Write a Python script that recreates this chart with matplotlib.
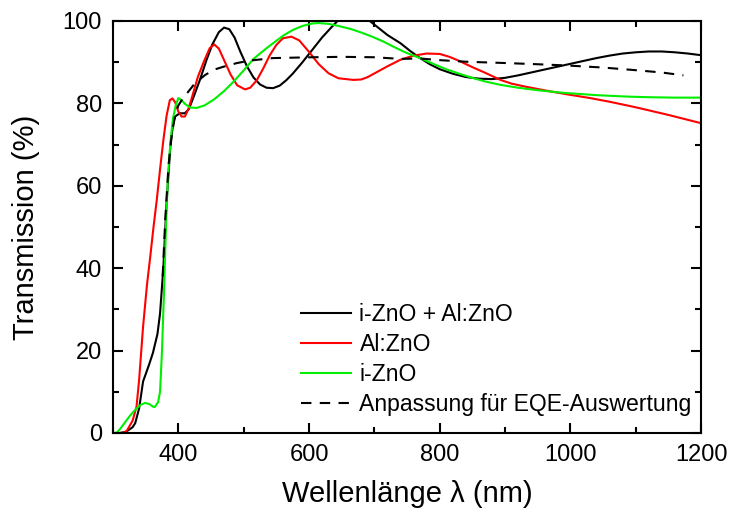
import matplotlib
matplotlib.use("Agg")
import matplotlib.pyplot as plt
from matplotlib.ticker import MultipleLocator

plt.rcParams['font.family'] = ['Liberation Sans', 'DejaVu Sans']

# i-ZnO + Al:ZnO
wl_stack = [300, 310, 320, 330, 334, 340, 346, 355, 361, 368, 372, 377, 382, 385, 388, 392, 395,
            402, 410, 416, 422, 433, 443, 452, 462, 470, 478, 486, 495, 505, 515, 525, 535,
            545, 555, 565, 575, 590, 605, 620, 635, 645, 655, 668, 680, 693, 705, 720, 740,
            755, 770, 785, 800, 820, 840, 860, 880, 900, 920, 940, 960, 980, 1000, 1020,
            1040, 1060, 1080, 1100, 1120, 1140, 1160, 1180, 1200]
t_stack = [0, 0, 0.3, 1.4, 2.4, 6, 12.5, 16.5, 19.4, 24, 29, 40, 56, 63, 70, 75, 76.8,
           77.6, 77.6, 78.6, 81, 85.7, 90.5, 94.3, 97.3, 98.4, 98, 96, 92.5, 89, 86.3, 84.6, 83.8,
           83.7, 84.3, 85.6, 87.2, 90, 93, 96, 98.6, 100.2, 101.4, 102, 101.5, 100, 98.5, 96.6, 94.6,
           92.7, 91, 89.5, 88.3, 87.2, 86.4, 86, 85.9, 86.2, 86.8, 87.5, 88.2, 88.9, 89.6, 90.3,
           91, 91.6, 92.1, 92.4, 92.6, 92.6, 92.4, 92.1, 91.7]

# Al:ZnO
wl_azo = [300, 315, 321, 330, 336, 340, 346, 352, 357, 362, 367, 372, 377, 382, 387, 391, 395,
          400, 405, 410, 415, 420, 430, 440, 448, 455, 462, 470, 480, 490, 502, 510, 520, 530,
          540, 550, 560, 573, 585, 600, 615, 630, 645, 668, 680, 690, 705, 720, 740, 760, 780,
          800, 815, 830, 850, 870, 893, 910, 930, 950, 970, 995, 1030, 1060, 1090, 1107, 1150,
          1180, 1200]
t_azo = [0, 0, 0.5, 3, 6.4, 13, 25.8, 36, 42.8, 50, 56.6, 64, 71, 77, 80.8, 81.2, 80.3,
         78, 76.8, 76.8, 78.5, 81, 86.5, 90.5, 93.4, 94.3, 93.3, 90.5, 87, 84.4, 83.4, 83.8, 85.6, 88.5,
         91.7, 94.2, 95.8, 96.2, 95.3, 92.5, 89.5, 87.3, 86.1, 85.7, 85.8, 86.4, 87.7, 89, 90.6, 91.6, 92.1,
         92, 91.3, 90.3, 88.8, 87.4, 85.7, 84.8, 84.1, 83.5, 82.9, 82.2, 81.3, 80.4, 79.4, 78.8, 77.2,
         76, 75.2]

# i-ZnO
wl_izo = [300, 305, 310, 318, 326, 335, 342, 349, 356, 361, 364, 369, 372, 375, 378, 381, 384,
          388, 392, 396, 400, 405, 410, 418, 428, 440, 455, 470, 484, 500, 515, 535, 550, 561,
          575, 590, 605, 615, 630, 645, 663, 680, 695, 714, 730, 750, 770, 790, 810, 830, 850,
          870, 893, 920, 950, 980, 995, 1040, 1080, 1097, 1120, 1160, 1200]
t_izo = [0, 0, 0.8, 2.5, 4.2, 5.8, 6.8, 7.3, 7, 6.4, 6.3, 7.5, 10, 20, 34, 50, 62,
         71, 76.5, 79.5, 81.3, 80.8, 79.9, 79, 78.9, 79.5, 81, 83, 85.2, 88, 90.8, 93.4, 95.2, 96.5,
         97.8, 98.8, 99.4, 99.5, 99.3, 98.8, 98.1, 97.2, 96.3, 95, 93.7, 92.2, 91, 89.6, 88.3, 87.2, 86.2,
         85.3, 84.5, 83.8, 83.2, 82.7, 82.5, 82, 81.7, 81.6, 81.5, 81.4, 81.4]

# Anpassung (fit)
wl_fit = [376, 380, 385, 390, 395, 400, 408, 415, 425, 441, 455, 469, 490, 510, 545, 606,
          650, 700, 740, 770, 800, 842, 900, 950, 995, 1050, 1097, 1140, 1173]
t_fit = [38, 52, 65, 72.5, 77, 79.5, 81.5, 82.8, 84.8, 86.9, 88.2, 88.9, 89.8, 90.4, 91, 91.2,
         91.3, 91.2, 90.8, 90.9, 90.5, 90.1, 89.8, 89.5, 89.2, 88.7, 88.1, 87.5, 86.8]

fig = plt.figure(figsize=(7.31, 5.12), dpi=100)
ax = fig.add_axes([0.1546, 0.1543, 0.8044, 0.8047])

lw = 1.5
ax.plot(wl_stack, t_stack, color='black', lw=lw, label='i-ZnO + Al:ZnO')
ax.plot(wl_azo, t_azo, color='#ff0000', lw=lw, label='Al:ZnO')
ax.plot(wl_izo, t_izo, color='#00ee00', lw=lw, label='i-ZnO')
ax.plot(wl_fit, t_fit, color='black', lw=lw, ls=(0, (5, 4)), label='Anpassung für EQE-Auswertung')

ax.set_xlim(300, 1200)
ax.set_ylim(0, 100)
ax.xaxis.set_major_locator(MultipleLocator(200))
ax.xaxis.set_minor_locator(MultipleLocator(100))
ax.yaxis.set_major_locator(MultipleLocator(20))
ax.yaxis.set_minor_locator(MultipleLocator(10))
ax.tick_params(which='both', direction='in', top=True, right=True, width=1.5)
ax.tick_params(which='major', length=7, labelsize=17, pad=8)
ax.tick_params(which='minor', length=4)
for s in ax.spines.values():
    s.set_linewidth(1.5)

ax.set_xlabel('Wellenlänge λ (nm)', fontsize=21, labelpad=10)
ax.set_ylabel('Transmission (%)', fontsize=21, labelpad=16)

ax.legend(loc='lower right', bbox_to_anchor=(0.992, 0.03), frameon=False, fontsize=16.6,
          labelspacing=0.3, handlelength=2.2, handletextpad=0.35, borderaxespad=0, borderpad=0.2)

fig.savefig('out.png', dpi=100)
